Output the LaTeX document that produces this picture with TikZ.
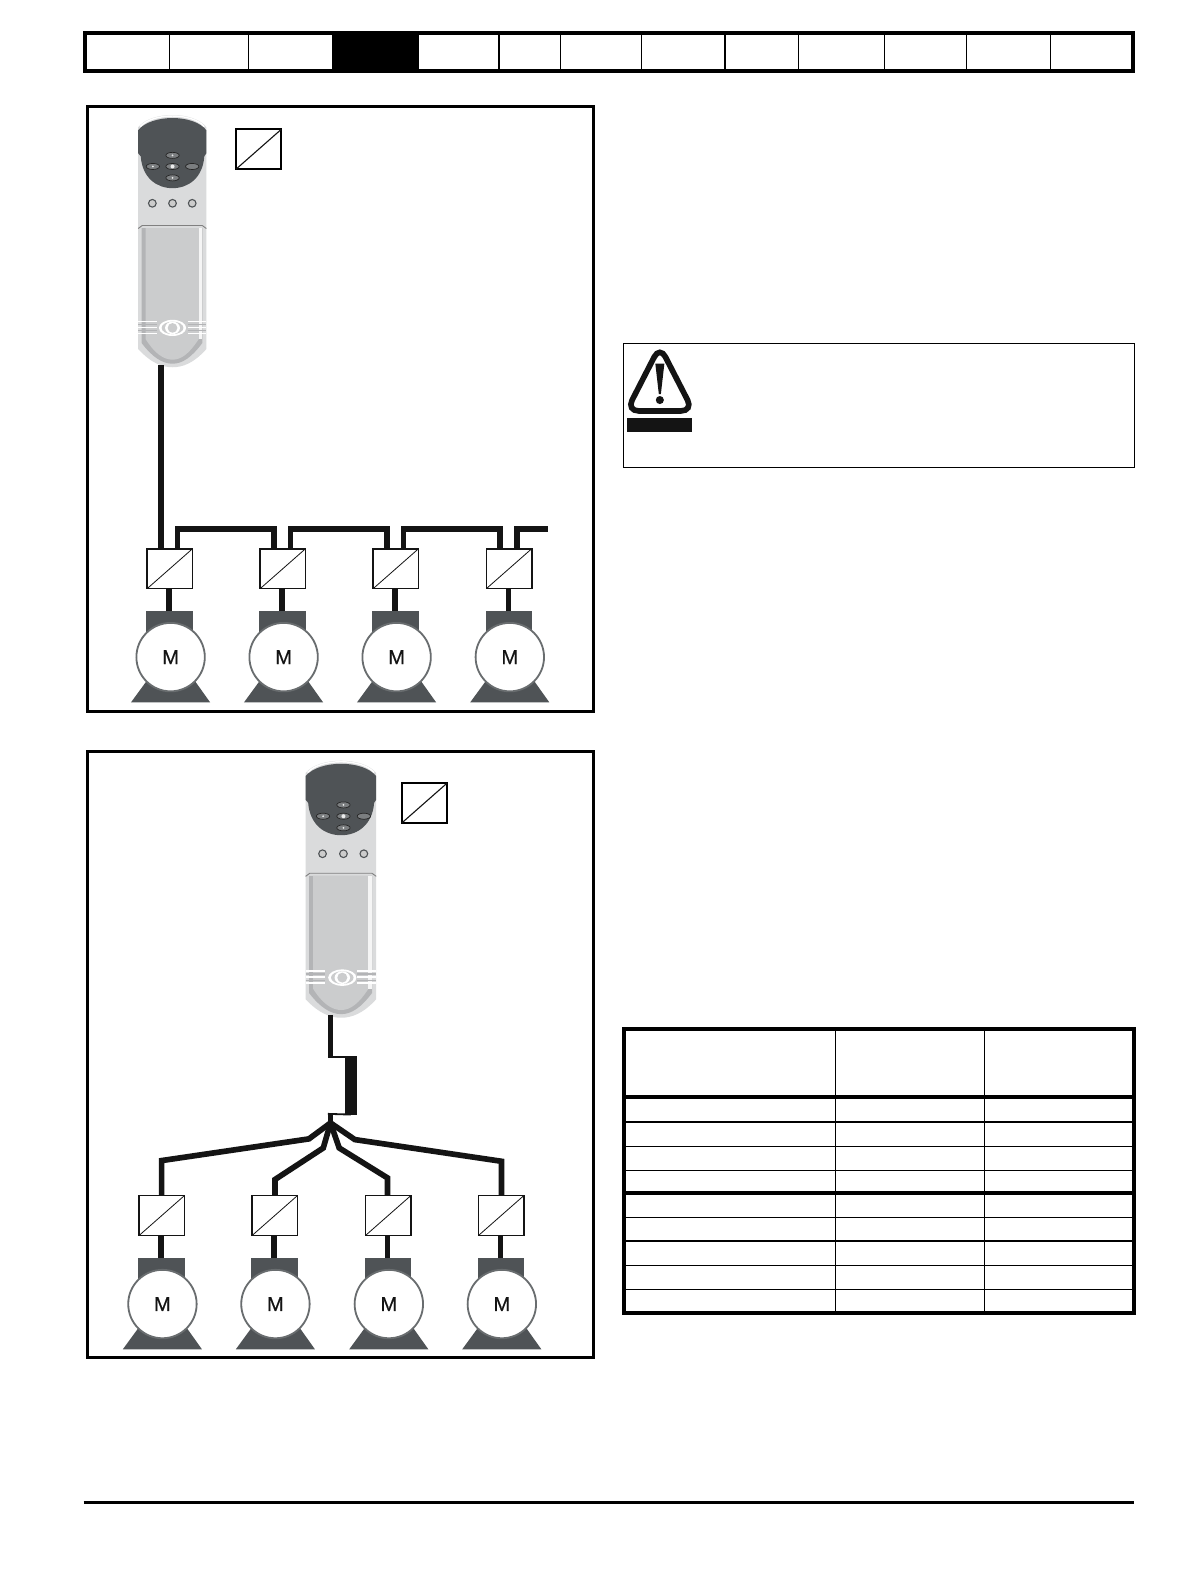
\documentclass[tikz,border=0pt]{standalone}
\usepackage{fontspec}
\setmainfont{Liberation Sans}
\newfontfamily\motorfont[FakeBold=0.5]{Liberation Sans}
\usetikzlibrary{shapes.geometric,calc}
\definecolor{mdark}{HTML}{4F5356}
\definecolor{ink}{HTML}{141414}
\definecolor{bodyg}{HTML}{DADBDC}
\definecolor{stripeg}{HTML}{B3B4B6}
\definecolor{panelg}{HTML}{CBCCCD}
\tikzset{
  frameline/.style={draw=black,line width=1.6pt},
  thinrule/.style={draw=black,line width=.65pt},
  thickrule/.style={draw=black,line width=1.8pt},
  cable/.style={draw=ink,line width=2.8pt},
  conv/.style={rectangle,draw=ink,line width=.85pt,fill=white,minimum width=22.5pt,minimum height=19.8pt,inner sep=0pt,outer sep=0pt},
  convsmall/.style={conv,draw=black},
  diag/.style={draw=ink,line width=.4pt},
  motorbody/.style={circle,draw=mdark!85!white,line width=.9pt,fill=white,minimum size=33.9pt,inner sep=0pt,outer sep=0pt,font=\motorfont\fontsize{10pt}{10pt}\selectfont,text=ink},
  capnode/.style={rectangle,fill=mdark,minimum width=23pt,minimum height=14pt,inner sep=0pt,outer sep=0pt,anchor=north},
  keybtn/.style={ellipse,draw=black!85,line width=.35pt,fill=mdark!75!white,minimum width=6.6pt,minimum height=3pt,inner sep=0pt},
  keydot/.style={circle,fill=white!85!gray,minimum size=1pt,inner sep=0pt},
  ledbtn/.style={circle,draw=mdark,line width=.55pt,fill=gray!40,minimum size=3.8pt,inner sep=0pt},
}
% one drive: converter box, stem, motor. #1 suffix, #2 centre x, #3 centre y
\newcommand{\driveunit}[3]{%
  \node[conv] (b#1) at (#2,#3) {};
  \draw[diag] (b#1.south west) -- (b#1.north east);
  \node[capnode] (cap#1) at (#2-0.3,#3+41.8) {};
  \fill[mdark] (#2-38.6,#3+132.6) -- (#2+39.9,#3+132.6) -- (#2+25.1,#3+111.8) -- (#2-23.4,#3+111.8) -- cycle;
  \draw[cable] (b#1.south -| cap#1.north) ++(-0.4,0) -- ($(cap#1.north)+(-0.4,0)$);
  \node[motorbody] (m#1) at (#2+0.7,#3+87.7) {M};
}
% the keypad unit: #1 #2 shift, #3 #4 scale, #5 #6 shift of its buttons
\newcommand{\keypadunit}[6]{%
\begin{scope}[shift={(#1,#2)},xscale=#3,yscale=#4]
  \fill[bodyg] (137,126) .. controls (150,110) and (192,110) .. (204.5,126) -- (204.5,346)
     .. controls (192,360) and (181,364) .. (171,364) .. controls (161,364) and (150,360) .. (137,346) -- cycle;
  \fill[mdark] (137,129) .. controls (150,113) and (192,113) .. (204.5,129) -- (204.5,152) -- (202.5,155)
     .. controls (201,176) and (187,186.5) .. (171,186.5) .. controls (155,186.5) and (141,176) .. (139.5,155) -- (137,152) -- cycle;
  \draw[white,line width=.7pt] (139,125.5) .. controls (151,111.5) and (191,111.5) .. (202.5,125.5);
  \begin{scope}[shift={(#5,#6)}]
  \foreach \kx/\ky in {171/154,171/165,171/176.3,151.5/165,190.5/165}{
    \node[keybtn] at (\kx,\ky) {};
  }
  \node[keydot] at (171,154) {};
  \node[keydot,minimum size=2pt] at (171,165) {};
  \node[keydot] at (171,176.3) {};
  \node[keydot] at (151.5,165) {};
  \node[ledbtn] at (151,201.5) {};
  \node[ledbtn] at (171,201.5) {};
  \node[ledbtn] at (190.5,201.5) {};
  \end{scope}
  \fill[stripeg] (140.4,226) -- (200.5,226) -- (200.5,340) .. controls (190,354) and (181,360.5) .. (171,360.5) .. controls (161,360.5) and (151,354) .. (140.4,340) -- cycle;
  \fill[panelg] (144.3,226) -- (197,226) -- (197,336) .. controls (188,350) and (180,356.5) .. (171,356.5) .. controls (162,356.5) and (153,350) .. (144.3,336) -- cycle;
  \fill[white!92!gray] (197,226) rectangle (200.5,336);
  \draw[gray,line width=.45pt] (137,226.5) -- (141,223.5) -- (200.5,223.5) -- (204.5,226.5);
  \foreach \yy in {321.5,327.5}{
    \draw[stripeg,line width=.7pt] (137,\yy) -- (156,\yy);
    \draw[stripeg,line width=.7pt] (186,\yy) -- (204.5,\yy);
  }
  \foreach \yy in {318.5,324.5,330.5}{
    \draw[white,line width=.8pt] (137,\yy) -- (156,\yy);
    \draw[white,line width=.8pt] (186,\yy) -- (204.5,\yy);
  }
  \begin{scope}[shift={(#5/2,0)}]
  \fill[white] (171,325) ellipse (13.5 and 8);
  \fill[panelg] (171,325) ellipse (10.8 and 6.2);
  \fill[white] (171,325) ellipse (7.4 and 6.2);
  \fill[panelg] (171,325) ellipse (4.8 and 4.8);
  \end{scope}
\end{scope}}
\begin{document}
\begin{tikzpicture}[x=.5pt,y=-.5pt]
\useasboundingbox (0,0) rectangle (1179,1568);
\fill[white] (0,0) rectangle (1179,1568);

% header tab bar
\fill[black] (329,33) rectangle (415,70.5);
\foreach \xx in {168,246,494.5,555.7,635.7,718.7,791.7,876.7,957.7,1041}
  \draw[thinrule] (\xx,33) -- (\xx,70.5);
\draw[draw=black,line width=2pt] (84,33) rectangle (1123,70.5);

% panel frames
\draw[frameline] (86.5,105.5) rectangle (588,705.5);
\draw[frameline] (86.5,745) rectangle (588,1345.5);

% --- first panel
\keypadunit{0}{0}{1}{1}{0}{0}
\node[convsmall] (sa) at (256.3,148) {};
\draw[diag,line width=.55pt] (sa.south west) -- (sa.north east);
\driveunit{1}{168.4}{563.6}
\driveunit{2}{280.4}{563.6}
\driveunit{3}{392.4}{563.6}
\driveunit{4}{504.6}{563.6}
\coordinate (top1) at (159.5,362);
\coordinate (bend1a) at (176,524);
\coordinate (bend1b) at (271.5,524);
\coordinate (bend2a) at (288,524);
\coordinate (bend2b) at (383.4,524);
\coordinate (bend3a) at (400,524);
\coordinate (bend3b) at (495.4,524);
\coordinate (bend4a) at (512.3,524);
\coordinate (free1) at (543,524);
\draw[cable] (top1) -- (top1 |- b1.north);
\draw[cable] (bend1a |- b1.north) -- (bend1a) -- (bend1b) -- (bend1b |- b2.north);
\draw[cable] (bend2a |- b2.north) -- (bend2a) -- (bend2b) -- (bend2b |- b3.north);
\draw[cable] (bend3a |- b3.north) -- (bend3a) -- (bend3b) -- (bend3b |- b4.north);
\draw[cable] (bend4a |- b4.north) -- (bend4a) -- (free1);

% --- second panel
\keypadunit{160.8}{637.8}{1.037}{1.019}{2.2}{3}
\node[convsmall] (sb) at (420.6,796) {};
\draw[diag,line width=.55pt] (sb.south west) -- (sb.north east);
\driveunit{5}{160.3}{1204.8}
\driveunit{6}{272.3}{1204.8}
\driveunit{7}{384.7}{1204.8}
\driveunit{8}{496.7}{1204.8}
\coordinate (top2) at (327.6,1006);
\coordinate (hub) at (327.6,1113);
\coordinate (blocktop) at (347.7,1047.6);
\coordinate (blockbot) at (347.7,1104.7);
\draw[cable] (top2) -- (327.6,1047.6);
\draw[draw=ink,line width=.9pt] (325,1047.6) -- (blocktop);
\fill[ink] (341.8,1047) rectangle (353.7,1104.7);
\draw[draw=ink,line width=.9pt] (blockbot) -- (325,1104);
\draw[cable] (327.6,1103.5) -- (hub);
\draw[cable,line join=miter] (hub) -- (306.2,1128.8) -- (160.2,1150.3) -- (160.2,1150.3 |- b5.north);
\draw[cable,line join=miter] (hub) -- (320.4,1137.8) -- (272.5,1169.1) -- (272.5,1169.1 |- b6.north);
\draw[cable,line join=miter] (hub) -- (336.2,1137.8) -- (384.1,1167.5) -- (384.1,1167.5 |- b7.north);
\draw[cable,line join=miter] (hub) -- (351.7,1129.5) -- (497.1,1151) -- (497.1,1151 |- b8.north);

% --- warning box
\draw[draw=black,line width=.5pt] (617.5,340.5) rectangle (1124,463);
\draw[draw=ink,line width=2.8pt,rounded corners=6pt] (654,407.3) -- (687,407.3) -- (654,343) -- (621,407.3) -- cycle;
\fill[ink] (649.5,360.3) -- (658.5,360.3) -- (655,390.7) -- (653,390.7) -- cycle;
\fill[ink] (654,396.5) circle (2pt);
\fill[ink] (621.3,414) rectangle (686,428.5);

% --- table
\foreach \yy in {1112,1136,1160,1206.5,1230,1254,1278}
  \draw[thinrule] (619,\yy) -- (1123,\yy);
\foreach \xx in {828,975.5}
  \draw[thinrule] (\xx,1020) -- (\xx,1301);
\foreach \yy in {1087,1182.5}
  \draw[thickrule] (619,\yy) -- (1123,\yy);
\draw[thickrule] (618.5,1019.7) rectangle (1123.7,1301.5);

% footer rule
\draw[draw=black,line width=1.2pt] (83,1489) -- (1124,1489);
\end{tikzpicture}
\end{document}
